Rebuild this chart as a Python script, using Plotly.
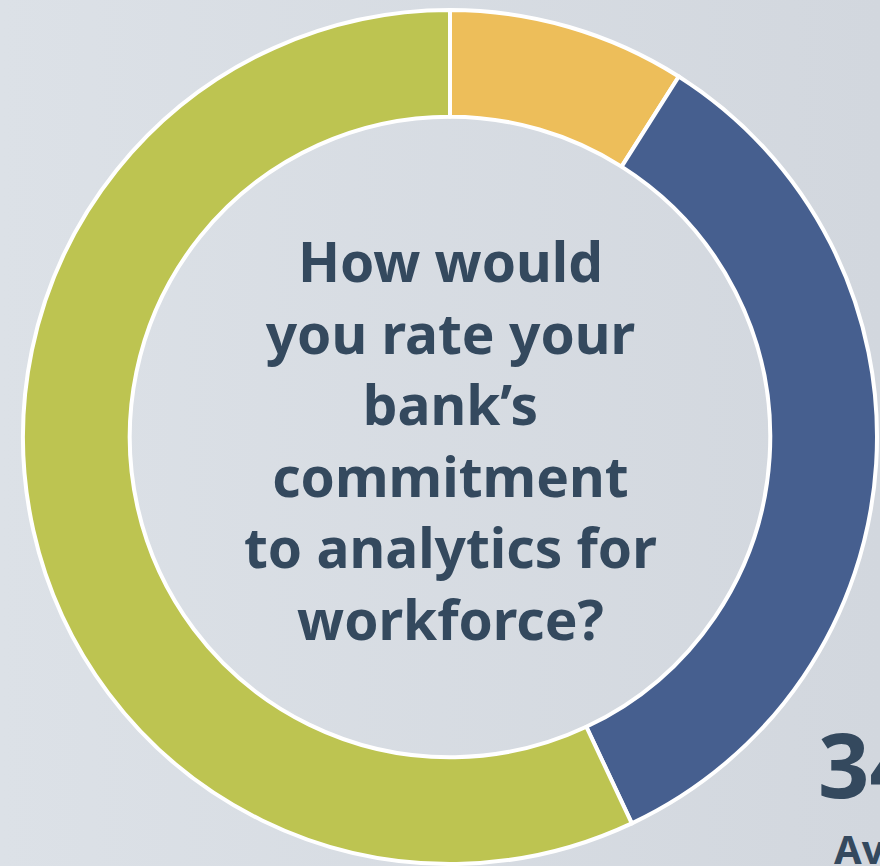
import plotly.graph_objects as go

categories = ["Low", "Medium", "High"]
values = [9, 34, 57]
colors = ["#EDBE5A", "#465F8F", "#BDC451"]
question_lines = ["How would", "you rate your", "bank’s", "commitment", "to analytics for", "workforce?"]
avg_value = "34%"
avg_label = "Average"

W, H = 880, 866
cx, cy, R = 450, 437, 427

fig = go.Figure()
fig.add_trace(go.Pie(
    labels=categories, values=values, hole=0.75, sort=False, direction="clockwise",
    rotation=0, marker=dict(colors=colors, line=dict(color="white", width=4)),
    textinfo="none", hoverinfo="label+percent", showlegend=False,
    domain=dict(x=[(cx - R) / W, (cx + R) / W], y=[(H - cy - R) / H, (H - cy + R) / H]),
))

fig.add_annotation(
    text="<br>".join(question_lines), x=cx / W, y=1 - 439 / H, xref="paper", yref="paper",
    showarrow=False, xanchor="center", yanchor="middle",
    font=dict(family="Noto Sans", size=55, color="#34495E", weight="bold"),
)
fig.add_annotation(
    text="<b>" + avg_value + "</b>", x=816 / W, y=1 - 763 / H, xref="paper", yref="paper",
    showarrow=False, xanchor="left", yanchor="middle",
    font=dict(family="Noto Sans", size=90, color="#34495E"),
)
fig.add_annotation(
    text="<b>" + avg_label + "</b>", x=832 / W, y=1 - 848 / H, xref="paper", yref="paper",
    showarrow=False, xanchor="left", yanchor="middle",
    font=dict(family="Noto Sans", size=40, color="#34495E"),
)

fig.update_layout(
    width=W, height=H, margin=dict(l=0, r=0, t=0, b=0),
    paper_bgcolor="rgba(0,0,0,0)", plot_bgcolor="rgba(0,0,0,0)",
)
post = (
    "document.body.style.margin='0';"
    "document.body.style.overflow='hidden';"
    "document.body.style.background='linear-gradient(to right, #DCE1E7, #D2D7DE)';"
)
fig.write_html("out.html", post_script=post, config={"displayModeBar": False})
